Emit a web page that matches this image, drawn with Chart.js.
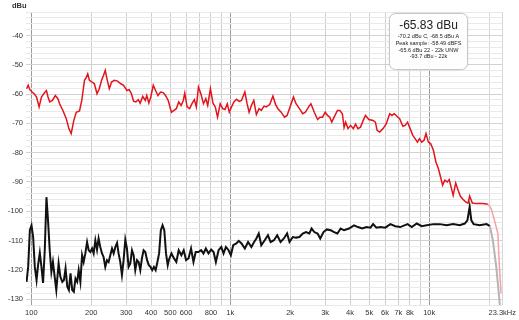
<!DOCTYPE html>
<html>
<head>
<meta charset="utf-8">
<script src="https://cdn.jsdelivr.net/npm/chart.js@4.4.1/dist/chart.umd.min.js"></script>
<style>
  html, body { margin: 0; padding: 0; background: #fff; }
  #wrap { width: 519px; height: 320px; }
</style>
</head>
<body>
<div id="wrap"><canvas id="spectrumChart" width="519" height="320"></canvas></div>
<script>
// spectrum readings (Hz / dBu)
const redFreq = [94.6, 96.4, 98.3, 100.9, 103.3, 106.2, 109.4, 112.4, 115.4, 119.1,
  121.3, 123.7, 127.6, 132.0, 136.0, 138.7, 144.1, 149.8, 154.4, 158.6,
  163.5, 168.2, 174.6, 179.3, 185.0, 188.6, 192.1, 195.8, 202.0, 207.4,
  213.9, 219.6, 225.5, 230.7, 235.3, 240.0, 246.6, 253.0, 261.3, 271.3,
  281.9, 290.9, 302.4, 310.6, 318.4, 326.6, 335.0, 344.7, 352.3, 363.0,
  374.0, 380.5, 389.7, 398.5, 410.2, 421.3, 432.8, 446.5, 460.0, 472.7,
  487.6, 506.1, 521.5, 535.6, 550.6, 566.2, 580.6, 590.6, 606.7, 624.5,
  642.0, 659.9, 675.2, 692.1, 711.5, 733.3, 753.9, 770.4, 794.7, 819.0,
  840.8, 863.1, 890.0, 916.9, 940.7, 966.1, 988.6, 1015, 1043, 1075,
  1109, 1139, 1184, 1215, 1244, 1277, 1313, 1353, 1395, 1432,
  1478, 1517, 1578, 1639, 1690, 1736, 1803, 1874, 1931, 1998,
  2078, 2141, 2227, 2313, 2386, 2478, 2544, 2645, 2748, 2821,
  2910, 3001, 3082, 3164, 3238, 3328, 3457, 3557, 3661, 3734,
  3802, 3909, 4027, 4154, 4265, 4385, 4518, 4660, 4785, 4976,
  5227, 5367, 5473, 5645, 5864, 6090, 6333, 6501, 6676, 6886,
  7103, 7377, 7574, 7786, 8021, 8275, 8496, 8732, 8936, 9175,
  9421, 9640, 9908, 10170, 10500, 10810, 11120, 11410, 11680, 11990,
  12330, 12610, 12950, 13200, 13600, 13980, 14360, 14810, 15260, 15690,
  15980, 16480, 17260, 18630, 19740, 20500, 21290, 22140, 22550, 22990];
const redLevel = [-58.2, -57.0, -58.5, -59.3, -59.9, -61.0, -64.4, -61.0, -59.9, -58.8,
  -61.0, -62.7, -62.2, -60.5, -61.6, -63.3, -65.6, -68.4, -71.8, -73.5,
  -69.0, -66.2, -65.8, -62.2, -55.3, -54.4, -53.1, -55.3, -55.9, -56.5,
  -59.9, -58.2, -55.3, -53.6, -51.9, -54.8, -58.2, -55.9, -55.3, -55.6,
  -56.5, -57.0, -58.8, -58.5, -59.9, -62.4, -62.7, -61.9, -63.1, -60.8,
  -62.2, -60.5, -63.1, -61.0, -57.0, -58.8, -60.5, -59.3, -59.5, -60.5,
  -62.2, -66.2, -65.6, -65.0, -62.7, -63.9, -62.2, -59.7, -64.4, -65.0,
  -63.3, -61.9, -64.4, -57.6, -59.9, -63.3, -61.6, -63.9, -58.2, -63.1,
  -64.4, -67.9, -63.3, -65.0, -65.3, -63.3, -66.2, -64.4, -62.7, -61.8,
  -62.5, -62.2, -59.3, -63.3, -66.2, -63.9, -62.2, -67.0, -65.0, -65.6,
  -64.1, -64.4, -63.6, -60.7, -63.6, -65.0, -66.2, -67.9, -67.3, -64.4,
  -61.0, -63.3, -65.0, -66.7, -66.2, -64.4, -63.3, -66.2, -68.7, -67.9,
  -67.9, -66.2, -67.3, -67.9, -69.6, -67.9, -65.6, -65.6, -66.7, -71.4,
  -69.6, -71.8, -70.7, -71.8, -70.3, -71.8, -71.3, -69.0, -67.3, -68.7,
  -69.0, -69.6, -72.4, -73.0, -71.8, -70.1, -66.7, -67.3, -66.7, -67.6,
  -68.4, -71.0, -70.7, -69.6, -71.8, -74.1, -75.2, -76.4, -75.2, -76.4,
  -75.8, -73.5, -76.4, -76.9, -79.2, -83.2, -85.4, -88.3, -91.1, -89.4,
  -90.0, -89.2, -92.3, -94.6, -90.4, -92.8, -94.9, -96.0, -96.8, -97.2,
  -94.8, -97.2, -97.4, -97.4, -97.6, -99.1, -103.1, -107.5, -119.0, -128.0];

const blackFreq = [94.6, 96.4, 98.3, 100.2, 102.1, 104.1, 106.2, 108.1, 110.3, 112.4,
  114.5, 116.8, 119.1, 121.3, 123.7, 126.1, 128.4, 131.0, 133.5, 137.1,
  139.9, 143.1, 145.8, 148.6, 151.6, 154.4, 157.4, 160.5, 163.5, 166.7,
  170.0, 173.0, 176.4, 179.9, 183.2, 186.8, 190.6, 194.2, 198.1, 202.0,
  205.7, 209.8, 213.9, 217.8, 222.1, 226.6, 230.7, 235.3, 240.0, 244.5,
  249.4, 254.4, 259.3, 264.4, 269.7, 274.5, 279.9, 285.4, 290.9, 296.7,
  302.4, 308.2, 314.4, 320.6, 326.6, 333.0, 339.8, 346.2, 353.0, 359.6,
  366.7, 374.0, 381.8, 389.4, 397.3, 405.3, 413.2, 421.6, 430.3, 438.8,
  447.7, 456.6, 466.0, 475.3, 484.9, 490.8, 506.1, 521.5, 535.6, 550.6,
  567.8, 583.5, 599.4, 616.9, 635.2, 653.3, 670.3, 692.1, 713.8, 733.3,
  753.9, 777.5, 802.0, 824.4, 846.6, 873.5, 901.3, 925.3, 951.1, 980.7,
  1007, 1035, 1073, 1103, 1139, 1184, 1229, 1277, 1318, 1353,
  1391, 1432, 1490, 1547, 1596, 1658, 1722, 1790, 1860, 1931,
  1985, 2063, 2141, 2227, 2313, 2403, 2498, 2564, 2645, 2748,
  2834, 2943, 3057, 3201, 3328, 3457, 3590, 3734, 3954, 4188,
  4385, 4607, 4840, 5067, 5227, 5430, 5683, 6021, 6379, 6754,
  7155, 7786, 8176, 8662, 9175, 9721, 10500, 11320, 12230, 13200,
  14240, 15090, 15570, 15980, 16290, 16730, 17940, 19440, 20200, 20900,
  21740, 22400, 22860];
const blackLevel = [-124.1, -119.0, -106.5, -104.8, -108.8, -119.0, -123.5, -118.4, -114.2, -119.0,
  -124.5, -113.3, -95.2, -103.1, -113.3, -120.7, -117.3, -122.4, -126.9, -117.8,
  -122.4, -124.1, -123.5, -119.5, -125.8, -126.9, -121.2, -126.9, -127.5, -123.0,
  -124.1, -120.1, -124.1, -115.0, -117.3, -114.4, -110.5, -113.3, -113.9, -112.7,
  -114.4, -109.9, -113.1, -109.3, -112.2, -114.4, -115.6, -119.0, -116.7, -117.3,
  -115.0, -112.7, -114.4, -112.2, -110.8, -114.4, -117.3, -121.8, -116.7, -109.7,
  -112.7, -119.0, -117.8, -113.3, -115.0, -120.1, -116.7, -117.3, -120.1, -116.1,
  -113.3, -113.9, -116.7, -118.4, -119.0, -120.1, -119.0, -120.1, -117.3, -114.4,
  -106.5, -104.8, -106.5, -114.4, -118.4, -116.7, -114.4, -116.1, -117.3, -113.3,
  -115.0, -113.3, -116.7, -116.1, -112.7, -117.3, -113.9, -113.9, -113.3, -114.4,
  -112.7, -114.4, -113.1, -113.9, -117.3, -113.3, -112.2, -114.4, -112.2, -113.3,
  -115.0, -111.6, -111.0, -110.1, -111.0, -112.7, -110.5, -112.2, -110.5, -109.3,
  -107.6, -111.6, -109.9, -108.2, -110.5, -109.9, -108.2, -110.5, -109.3, -107.6,
  -110.5, -108.8, -109.0, -108.8, -107.6, -107.1, -107.6, -105.9, -107.1, -107.6,
  -109.3, -107.1, -106.2, -106.5, -107.1, -107.6, -105.9, -106.5, -105.9, -104.8,
  -105.4, -105.9, -105.4, -105.6, -104.4, -105.6, -105.4, -105.6, -104.4, -105.1,
  -105.4, -104.4, -105.4, -104.2, -105.1, -104.8, -104.4, -104.4, -104.8, -104.4,
  -104.8, -104.2, -103.1, -98.5, -103.1, -104.4, -104.8, -104.4, -105.1, -109.9,
  -119.0, -128.1, -135.5];

const xTickValues = [100, 200, 300, 400, 500, 600, 700, 800, 900, 1000,
  2000, 3000, 4000, 5000, 6000, 7000, 8000, 9000, 10000, 20000, 23300];
const xTickLabels = ['100', '200', '300', '400', '500', '600', '', '800', '', '1k',
  '2k', '3k', '4k', '5k', '6k', '7k', '8k', '', '10k', '', '23.3kHz'];

const readoutMain = '-65.83 dBu';
const readoutLines = ['-70.2 dBu C, -68.5 dBu A', 'Peak sample: -58.49 dBFS',
  '-65.6 dBu 22 - 22k UNW', '-93.7 dBu - 22k'];

const bandLimit = 19700; // above this the trace is drawn faded
const FONT = '"Liberation Sans", Arial, sans-serif';

function pts(fs, vs) {
  return fs.map((f, i) => ({ x: f, y: vs[i] }));
}

// unit label + level readout box
const overlay = {
  id: 'overlay',
  afterDraw(chart) {
    const c = chart.ctx;
    c.save();
    c.fillStyle = '#333';
    c.font = 'bold 7.5px ' + FONT;
    c.textBaseline = 'middle';
    c.fillText('dBu', 12, 6);

    const bx = 389.5, by = 13.5, bw = 78, bh = 56, r = 6;
    c.shadowColor = 'rgba(0,0,0,0.12)';
    c.shadowBlur = 3;
    c.beginPath();
    c.roundRect(bx, by, bw, bh, r);
    c.fillStyle = 'rgba(255,255,255,0.96)';
    c.fill();
    c.shadowColor = 'transparent';
    c.strokeStyle = '#c6c6c6';
    c.lineWidth = 1;
    c.stroke();

    c.fillStyle = '#222';
    c.textAlign = 'center';
    c.font = '12px ' + FONT;
    c.fillText(readoutMain, bx + bw / 2, 26);
    c.font = '5.5px ' + FONT;
    readoutLines.forEach((t, i) => c.fillText(t, bx + bw / 2, 36.5 + i * 6.8));
    c.restore();
  }
};

window.addEventListener('DOMContentLoaded', () => {
  const ctx = document.getElementById('spectrumChart');
  new Chart(ctx, {
    type: 'line',
    data: {
      datasets: [
        {
          label: 'Level',
          data: pts(redFreq, redLevel),
          borderColor: '#e3141b',
          borderWidth: 1.5,
          pointRadius: 0,
          segment: { borderColor: s => s.p0.parsed.x >= bandLimit ? '#f4a3a3' : '#e3141b' }
        },
        {
          label: 'Noise',
          data: pts(blackFreq, blackLevel),
          borderColor: '#111',
          borderWidth: 2,
          pointRadius: 0,
          segment: { borderColor: s => s.p0.parsed.x >= bandLimit ? '#b5b5b5' : '#111' }
        }
      ]
    },
    options: {
      responsive: false,
      animation: false,
      layout: { padding: { top: 12, right: 13, left: 0, bottom: 0 } },
      plugins: { legend: { display: false }, tooltip: { enabled: false } },
      scales: {
        x: {
          type: 'logarithmic',
          min: 94,
          max: 23300,
          afterBuildTicks: s => { s.ticks = xTickValues.map(v => ({ value: v })); },
          afterFit: s => { s.height = 15; },
          ticks: {
            autoSkip: false, maxRotation: 0, minRotation: 0, padding: 3,
            color: '#333', font: { family: FONT, size: 7.5 },
            callback: (v, i) => xTickLabels[i]
          },
          grid: {
            drawTicks: false,
            lineWidth: 1,
            color: g => {
              const v = g.tick && g.tick.value;
              if (v === 100 || v === 1000 || v === 10000) return '#9a9a9a';
              if (v === 20000 || v === 23300) return '#d6d6d6';
              return '#cfcfcf';
            }
          },
          border: { display: false }
        },
        y: {
          type: 'linear',
          min: -132,
          max: -32,
          afterFit: s => { s.width = 26; },
          ticks: {
            stepSize: 2, autoSkip: false, padding: 3,
            color: '#333', font: { family: FONT, size: 7.5 },
            callback: v => (v % 10 === 0 ? String(v) : '')
          },
          grid: {
            drawTicks: false,
            color: g => (g.tick && g.tick.value % 10 === 0 ? '#d2d2d2' : '#e9e9e9')
          },
          border: { display: false }
        }
      }
    },
    plugins: [overlay]
  });
});
</script>
</body>
</html>
